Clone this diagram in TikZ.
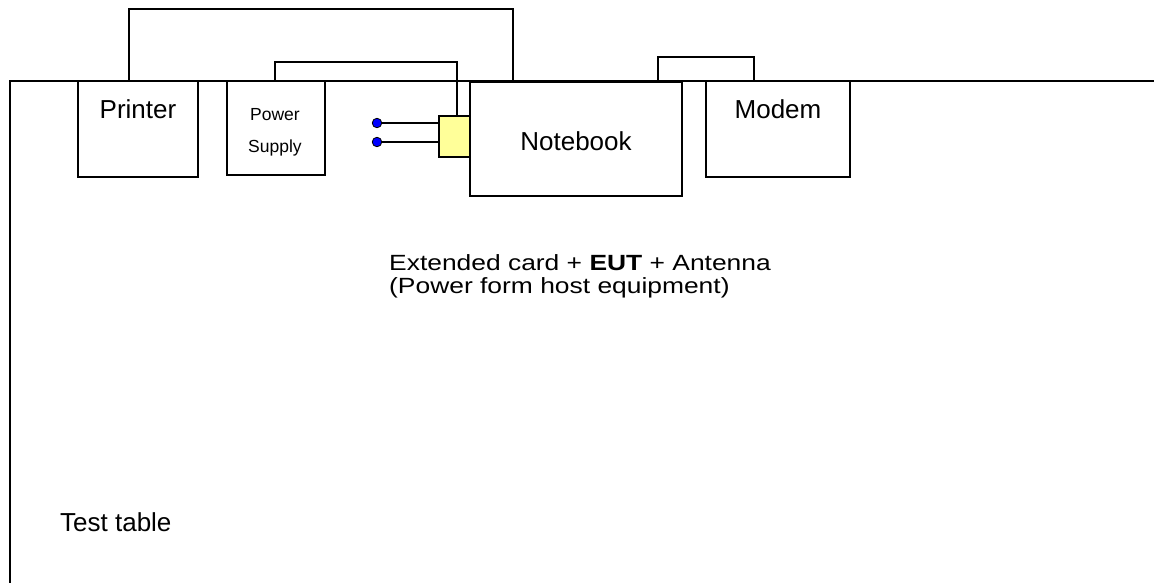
\documentclass[tikz,border=0pt]{standalone}
\usepackage{fontspec}
\setmainfont{Liberation Sans}
\usetikzlibrary{calc}
\definecolor{cardyellow}{RGB}{255,255,153}
\tikzset{
  box/.style={draw=black, line width=1.6pt, fill=white, inner sep=0pt, outer sep=0pt},
  lbl/.style={font=\fontsize{26}{30}\selectfont, inner sep=0pt, anchor=base},
  smalllbl/.style={font=\fontsize{17.5}{20}\selectfont, inner sep=0pt, anchor=base},
  caption/.style={font=\fontsize{22}{26}\selectfont, inner sep=0pt, anchor=base west},
  cable/.style={draw=black, line width=1.6pt},
  lead/.style={draw=black, line width=1.3pt},
  dot/.style={circle, draw=black, line width=0.8pt, fill=blue, minimum size=9.5pt, inner sep=0pt, outer sep=0pt}
}
\begin{document}
\begin{tikzpicture}[x=1pt, y=-1pt]
\useasboundingbox (0,0) rectangle (1154,582);
% test table
\coordinate (tableTR) at (1160,81);
\coordinate (tableBL) at (10,590);
\draw[line width=1.5pt] (tableTR) -- (tableTR -| tableBL) -- (tableBL);
\node[lbl, anchor=base west] (tablelbl) at (60,531) {Test table};

% equipment
\node[box, minimum width=120pt, minimum height=96pt] (printer) at (138,129) {};
\node[box, minimum width=98pt, minimum height=94pt] (ps) at (276,128) {};
\node[box, minimum width=212pt, minimum height=114pt] (notebook) at (576,139) {};
\node[box, minimum width=144pt, minimum height=96pt] (modem) at (778,129) {};
\node[box, fill=cardyellow, minimum width=31pt, minimum height=41pt] (card) at (454.5,136.5) {};

\node[lbl] (printerlbl) at (138,118) {Printer};
\node[smalllbl] (pslblA) at (275,120) {Power};
\node[smalllbl] (pslblB) at (275,152) {Supply};
\node[lbl] (notebooklbl) at (576,150) {Notebook};
\node[lbl] (modemlbl) at (778,118) {Modem};

% cables
\draw[cable] ($(printer.north)+(-9,0)$) -- ++(0,-72) -| ($(notebook.north)+(-63,0)$);
\draw[cable] ($(ps.north)+(-1,0)$) -- ++(0,-19) -| ($(card.north)+(2.5,0)$);
\draw[cable] ($(notebook.north)+(82,0)$) -- ++(0,-25) -| ($(modem.north)+(-24,0)$);

% antenna leads
\node[dot] (dotA) at (377,123) {};
\node[dot] (dotB) at (377,142) {};
\draw[lead] (dotA.east) -- (dotA -| card.west);
\draw[lead] (dotB.east) -- (dotB -| card.west);

% caption
\node[caption] (capA) at (389,270) {\scalebox{1.2}[1]{Extended card + \textbf{EUT} + Antenna}};
\node[caption] (capB) at (389,293) {\scalebox{1.2}[1]{(Power form host equipment)}};
\end{tikzpicture}
\end{document}
